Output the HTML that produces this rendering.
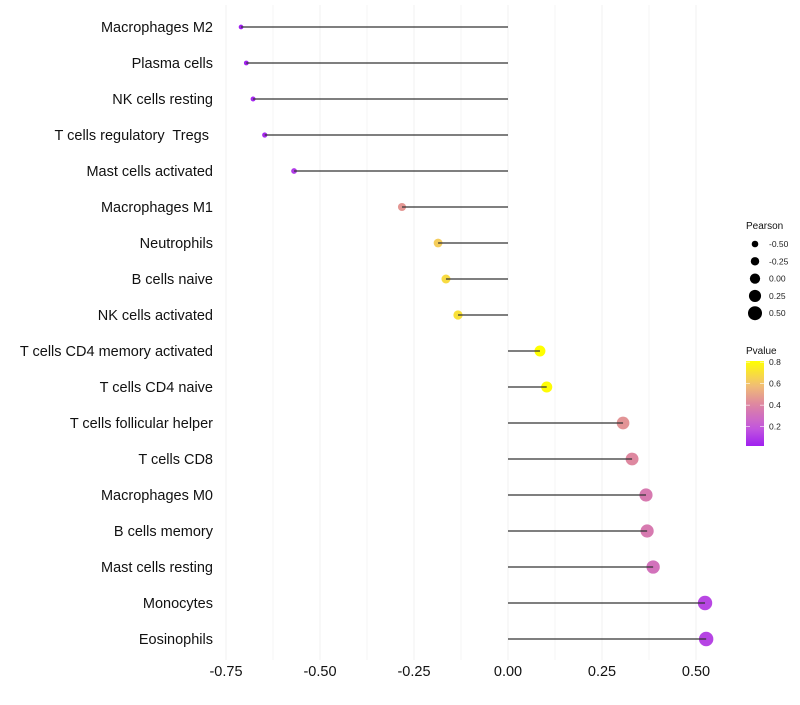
<!DOCTYPE html>
<html><head><meta charset="utf-8"><style>
body{margin:0;background:#fff;font-family:"Liberation Sans",sans-serif}
svg text{font-family:"Liberation Sans",sans-serif;white-space:pre}
</style></head><body>
<svg id="chart" width="800" height="700" xmlns="http://www.w3.org/2000/svg"></svg>
<script>
const categories=["Macrophages M2","Plasma cells","NK cells resting","T cells regulatory  Tregs ","Mast cells activated","Macrophages M1","Neutrophils","B cells naive","NK cells activated","T cells CD4 memory activated","T cells CD4 naive","T cells follicular helper","T cells CD8","Macrophages M0","B cells memory","Mast cells resting","Monocytes","Eosinophils"];
const pearson=[-0.71,-0.696,-0.678,-0.647,-0.569,-0.282,-0.186,-0.165,-0.133,0.085,0.103,0.306,0.33,0.367,0.37,0.386,0.524,0.527];
const pvalue=[0.02,0.03,0.04,0.05,0.1,0.47,0.65,0.7,0.72,0.83,0.82,0.46,0.42,0.36,0.36,0.32,0.14,0.13];
const xTicks=[-0.75,-0.5,-0.25,0,0.25,0.5];
const xTickLabels=["-0.75","-0.50","-0.25","0.00","0.25","0.50"];
const sizeLegend=[-0.5,-0.25,0,0.25,0.5];
const sizeLegendLabels=["-0.50","-0.25","0.00","0.25","0.50"];
const pTicks=[0.2,0.4,0.6,0.8];

const NS="http://www.w3.org/2000/svg";
const svg=document.getElementById('chart');
const x=v=>508+v*376;
const y=i=>27+i*36;
const r=v=>2.2+(v+0.75)/1.3*5.1;
const py=p=>446-(p-0.02)/0.2*21.5;
function col(p){
  const t=Math.max(0,Math.min(1,(p-0.02)/0.81));
  const stops=[[0,[160,32,240]],[0.22,[196,90,220]],[0.47,[220,130,165]],[0.72,[242,192,115]],[1,[255,255,0]]];
  for(let k=1;k<stops.length;k++){if(t<=stops[k][0]){const a=stops[k-1],b=stops[k];const u=(t-a[0])/(b[0]-a[0]);return 'rgb('+a[1].map((c,j)=>Math.round(c+(b[1][j]-c)*u)).join(',')+')';}}
  return 'rgb(255,255,0)';
}
function el(tag,attrs,parent){const e=document.createElementNS(NS,tag);for(const k in attrs)e.setAttribute(k,attrs[k]);(parent||svg).appendChild(e);return e;}

const grid=el('g',{});


for(let v=-0.75;v<=0.5001;v+=0.125){
  el('line',{x1:x(v),x2:x(v),y1:5,y2:660,stroke:'#f0f0f0','stroke-width':Math.abs((v/0.25)-Math.round(v/0.25))<1e-6?1:0.6},grid);
}
categories.forEach((c,i)=>{
  const g=el('g',{});
  
  
  el('circle',{cx:x(pearson[i]),cy:y(i),r:r(pearson[i]),fill:col(pvalue[i])},g);
  el('line',{x1:x(0),x2:x(pearson[i]),y1:y(i),y2:y(i),stroke:'#333','stroke-width':1.2},g);
  const t=el('text',{x:213,y:y(i)+5,'text-anchor':'end','font-size':14.5,fill:'#111','xml:space':'preserve'});
  t.textContent=c;
  
  
});
xTicks.forEach((v,i)=>{
  const t=el('text',{x:x(v),y:676,'text-anchor':'middle','font-size':14.5,fill:'#111'});
  t.textContent=xTickLabels[i];
  
  
});
const lg=el('g',{});


el('text',{x:746,y:229,'font-size':10,fill:'#111'},lg).textContent='Pearson';
sizeLegend.forEach((v,i)=>{
  const cy=244+i*17.3;
  el('circle',{cx:755,cy:cy,r:3.3+(v+0.5)*3.7,fill:'#000'},lg);
  el('text',{x:769,y:cy+3,'font-size':8.5,fill:'#222'},lg).textContent=sizeLegendLabels[i];
});
const cb=el('g',{});


el('text',{x:746,y:354,'font-size':10,fill:'#111'},cb).textContent='Pvalue';
const defs=el('defs',{});
const lgr=el('linearGradient',{id:'pg',x1:0,y1:1,x2:0,y2:0},defs);
for(let k=0;k<=10;k++){const p=0.02+k*0.081;el('stop',{offset:k/10,'stop-color':col(p)},lgr);}
el('rect',{x:746,y:361,width:18,height:85,fill:'url(#pg)'},cb);
pTicks.forEach(p=>{
  el('line',{x1:746,x2:750,y1:py(p),y2:py(p),stroke:'#fff','stroke-width':0.6},cb);
  el('line',{x1:760,x2:764,y1:py(p),y2:py(p),stroke:'#fff','stroke-width':0.6},cb);
  el('text',{x:769,y:py(p)+3,'font-size':8.5,fill:'#222'},cb).textContent=p.toFixed(1);
});
</script>
</body></html>
